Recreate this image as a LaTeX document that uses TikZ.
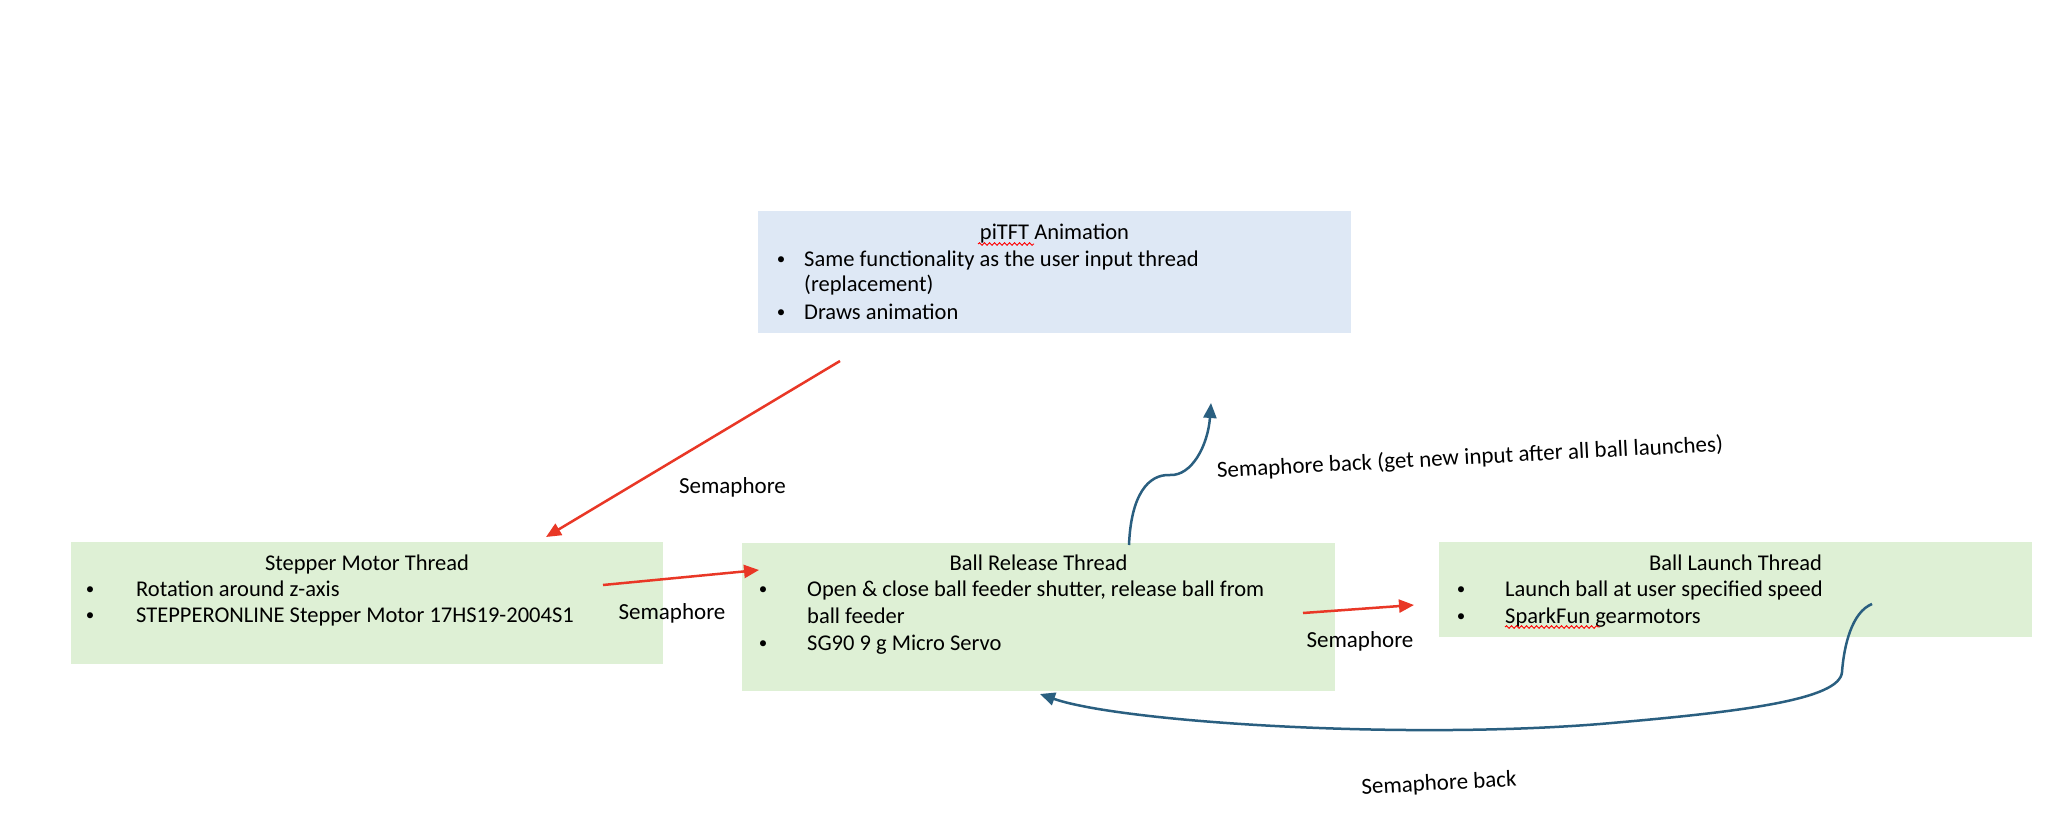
\documentclass[tikz,border=0pt]{standalone}
\usepackage{fontspec}
\setmainfont{Carlito}
\usetikzlibrary{arrows.meta,decorations.pathmorphing}
\definecolor{boxgreen}{RGB}{222,240,213}
\definecolor{boxblue}{RGB}{222,232,245}
\definecolor{arrred}{RGB}{233,55,38}
\definecolor{arrblue}{RGB}{42,95,128}
\newcommand{\smallbul}{\raisebox{1.5pt}{\fontsize{17}{17}\selectfont •}}
\begin{document}
\begin{tikzpicture}[x=1pt,y=-1pt,
  font=\fontsize{22.5}{27}\selectfont,
  box/.style={draw=none, inner sep=0, outer sep=0, anchor=north west},
  txt/.style={anchor=base west, inner sep=0},
  bul/.style={anchor=base, inner sep=0},
  ttl/.style={anchor=base, inner sep=0},
  redarrow/.style={draw=arrred, line width=2.5pt, -{Triangle[length=15pt,width=13pt]}},
  bluearrow/.style={draw=arrblue, line width=2.5pt, -{Triangle[length=15pt,width=13pt]}},
  lbl/.style={inner sep=0, font=\fontsize{23}{27}\selectfont},
  squiggle/.style={draw=red, line width=0.9pt, decorate, decoration={snake, amplitude=1.3pt, segment length=5pt}}]

\useasboundingbox[fill=white] (0,0) rectangle (2066,840);

% boxes
\node[box, fill=boxblue, minimum width=593pt, minimum height=122pt] (pitft) at (758,211) {};
\node[box, fill=boxgreen, minimum width=592pt, minimum height=122pt] (stepper) at (71,542) {};
\node[box, fill=boxgreen, minimum width=593pt, minimum height=148pt] (release) at (742,543) {};
\node[box, fill=boxgreen, minimum width=593pt, minimum height=95pt] (launch) at (1439,542) {};

% piTFT text
\node[ttl] (pitftT) at (1054.5,239) {piTFT Animation};
\node[bul] (pb1) at (781,266) {\smallbul};
\node[txt] (pt1) at (804,266) {Same functionality as the user input thread};
\node[txt] (pt2) at (804,291) {(replacement)};
\node[bul] (pb3) at (781,319) {\smallbul};
\node[txt] (pt3) at (804,319) {Draws animation};

% stepper text
\node[ttl] (stepT) at (367,570) {Stepper Motor Thread};
\node[bul] (sb1) at (90,596) {\smallbul};
\node[txt] (st1) at (136,596) {Rotation around z-axis};
\node[bul] (sb2) at (90,622) {\smallbul};
\node[txt] (st2) at (136,622) {STEPPERONLINE Stepper Motor 17HS19-2004S1};

% release text
\node[ttl] (relT) at (1038.5,570) {Ball Release Thread};
\node[bul] (rb1) at (763,596) {\smallbul};
\node[txt] (rt1) at (807,596) {Open \& close ball feeder shutter, release ball from};
\node[txt] (rt2) at (807,623) {ball feeder};
\node[bul] (rb3) at (763,650) {\smallbul};
\node[txt] (rt3) at (807,650) {SG90 9 g Micro Servo};

% launch text
\node[ttl] (lauT) at (1735.5,570) {Ball Launch Thread};
\node[bul] (lb1) at (1461,596) {\smallbul};
\node[txt] (lt1) at (1505,596) {Launch ball at user specified speed};
\node[bul] (lb2) at (1461,623) {\smallbul};
\node[txt] (lt2) at (1505,623) {SparkFun gearmotors};

% spell-check squiggles
\coordinate (q1a) at (978,244); \coordinate (q1b) at (1034,244);
\coordinate (q2a) at (1505,627); \coordinate (q2b) at (1600,627);
\draw[squiggle] (q1a) -- (q1b);
\draw[squiggle] (q2a) -- (q2b);

% red arrows
\coordinate (r1s) at (840,361); \coordinate (r1e) at (546,537);
\coordinate (r2s) at (603,585); \coordinate (r2e) at (759,570);
\coordinate (r3s) at (1303,613); \coordinate (r3e) at (1414,605);
\draw[redarrow] (r1s) -- (r1e);
\draw[redarrow] (r2s) -- (r2e);
\draw[redarrow] (r3s) -- (r3e);
\node[lbl, anchor=base] (l1) at (732.5,493) {Semaphore};
\node[lbl, anchor=base] (l2) at (672,619) {Semaphore};
\node[lbl, anchor=base] (l3) at (1360,647) {Semaphore};

% blue arrows
\coordinate (b1s) at (1129,545); \coordinate (b1m) at (1170,475); \coordinate (b1e) at (1211,403);
\draw[bluearrow] (b1s) .. controls (1131,495) and (1148,474) .. (b1m)
  .. controls (1192,476) and (1208,445) .. (b1e);
\node[lbl, rotate=3] (l4) at (1470,458) {Semaphore back (get new input after all ball launches)};

\coordinate (b2s) at (1872,604); \coordinate (b2m) at (1842,672); \coordinate (b2n) at (1600,724); \coordinate (b2e) at (1040,694);
\draw[bluearrow] (b2s) .. controls (1852,612) and (1844,645) .. (b2m)
  .. controls (1840,700) and (1740,712) .. (b2n)
  .. controls (1400,740) and (1120,722) .. (b2e);
\node[lbl, rotate=3] (l5) at (1439,784) {Semaphore back};
\end{tikzpicture}
\end{document}
